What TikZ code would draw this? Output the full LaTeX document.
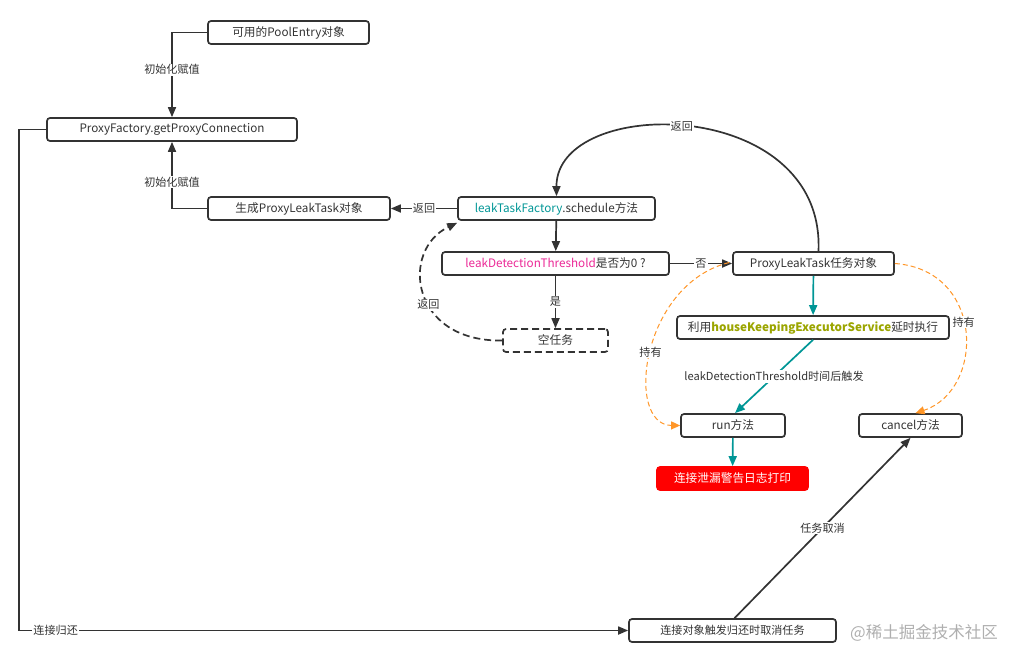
\documentclass[tikz,border=0pt]{standalone}
\usepackage{fontspec}
\setmainfont{Noto Sans CJK SC}
\usetikzlibrary{arrows.meta,positioning}
\definecolor{lineg}{RGB}{51,51,51}
\definecolor{tealc}{RGB}{0,150,150}
\definecolor{pinkc}{RGB}{235,40,150}
\definecolor{olivec}{RGB}{155,165,0}
\definecolor{orangec}{RGB}{255,150,40}
\definecolor{markg}{RGB}{175,175,175}

\begin{document}
\begin{tikzpicture}[x=1pt, y=-1pt,
    box/.style={rectangle, draw=lineg, line width=1.7pt, rounded corners=3pt, minimum height=23pt, inner sep=0pt, align=center, font=\fontsize{11.7}{13}\selectfont, text=lineg},
    lbl/.style={fill=white, inner sep=1pt, font=\fontsize{11.1}{12}\selectfont, text=lineg},
    arrow/.style={-{Triangle[length=10pt,width=8pt]}, line width=1.7pt, draw=lineg},
    longdash/.style={dash pattern=on 7pt off 4pt},
    tarrow/.style={-{Triangle[length=10pt,width=8pt]}, line width=1.7pt, draw=tealc},
    oarrow/.style={-{Triangle[length=9pt,width=8pt]}, line width=1pt, draw=orangec, dash pattern=on 5pt off 3pt}
]
    \useasboundingbox (0,0) rectangle (1024,664);

    \node[box, minimum width=161pt] (pool) at (288.5,32.5) {可用的PoolEntry对象};
    \node[box, minimum width=250pt] (factory) at (172,129.5) {ProxyFactory.getProxyConnection};
    \node[box, minimum width=182pt] (gen) at (299,208.5) {生成ProxyLeakTask对象};
    \node[box, minimum width=197pt] (sched) at (556.5,208.5) {\textcolor{tealc}{leakTaskFactory}.schedule方法};
    \node[box, minimum width=227pt] (thresh) at (555.5,263.5) {\textcolor{pinkc}{leakDetectionThreshold}是否为0 ?};
    \node[box, minimum width=105pt, longdash] (empty) at (555.5,340.5) {空任务};
    \node[box, minimum width=161pt] (task) at (813.5,263.5) {ProxyLeakTask任务对象};
    \node[box, minimum width=272pt] (exec) at (813,327.5) {利用\textcolor{olivec}{\textbf{houseKeepingExecutorService}}延时执行};
    \node[box, minimum width=104pt] (run) at (733,425.5) {run方法};
    \node[box, minimum width=103pt] (cancel) at (910.5,425.5) {cancel方法};
    \node[box, minimum width=151pt, draw=red, fill=red, text=white] (warn) at (732.5,478.5) {连接泄漏警告日志打印};
    \node[box, minimum width=207pt] (back) at (732.5,630.5) {\fontsize{11.1}{12}\selectfont 连接对象触发归还时取消任务};

    \draw[arrow] (pool.west) -| node[lbl, pos=0.72] {初始化赋值} (factory.north);
    \draw[arrow] (gen.west) -| node[lbl, pos=0.7] {初始化赋值} (factory.south);
    \draw[arrow] (sched.west) -- node[lbl] {返回} (gen.east);
    \draw[arrow] (sched) -- (thresh);
    \draw[arrow] (thresh) -- node[lbl] {是} (empty);
    \draw[arrow, longdash] (empty.west) .. controls (410,342) and (400,250) .. node[lbl, pos=0.42] {返回} ([yshift=-2pt]sched.south west);
    \draw[arrow] (thresh.east) -- node[lbl] {否} (task.west);
    \draw[arrow] ([xshift=5pt]task.north) .. controls (825,95) and (556,95) .. node[lbl, pos=0.52] {返回} (sched.north);

    \draw[tarrow] (task) -- (exec);
    \draw[tarrow] (exec.south) -- node[lbl] {leakDetectionThreshold时间后触发} ([xshift=2pt]run.north);
    \draw[tarrow] (run) -- (warn);

    \draw[oarrow] ([xshift=-3pt,yshift=1pt]task.west) .. controls (640,285) and (625,425) .. node[lbl, pos=0.5] {持有} (run.west);
    \draw[oarrow] (task.east) .. controls (985,270) and (985,390) .. node[lbl, pos=0.45] {持有} ([xshift=5pt]cancel.north);

    \draw[arrow] ([xshift=2pt]back.north) -- node[lbl] {任务取消} (cancel.south);
    \draw[arrow] (factory.west) -- ++(-27,0) |- node[lbl, pos=0.53] {连接归还} (back.west);

    \node[text=markg, font=\fontsize{16.5}{18}\selectfont] (mark) at (924,633) {@稀土掘金技术社区};
\end{tikzpicture}
\end{document}
